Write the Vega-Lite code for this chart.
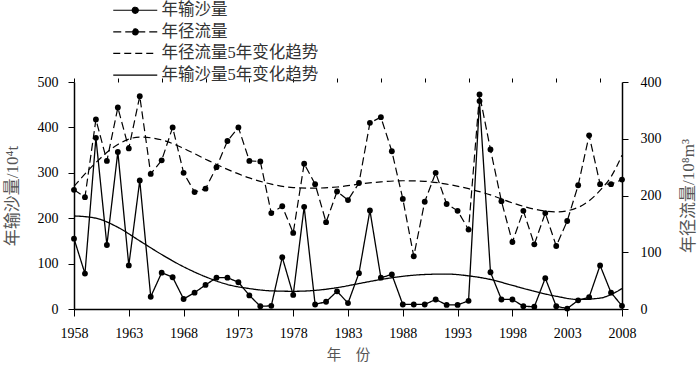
{
  "$schema": "https://vega.github.io/schema/vega-lite/v6.json",
  "width": 548,
  "height": 227,
  "autosize": {"type": "none"},
  "padding": {"left": 74, "top": 82, "right": 78, "bottom": 58},
  "background": "white",
  "config": {
    "view": {"stroke": null},
    "font": "Liberation Serif, Noto Sans CJK SC",
    "axis": {
      "domainColor": "black",
      "domainWidth": 1.5,
      "tickColor": "black",
      "tickWidth": 1,
      "labelColor": "black",
      "labelFont": "Liberation Serif",
      "labelFontSize": 14,
      "titleFont": "Liberation Serif, Noto Sans CJK SC",
      "titleFontSize": 17,
      "titleFontWeight": "normal",
      "titleColor": "#555",
      "grid": false
    }
  },
  "datasets": {
    "sed": [
      {"year": 1958, "series": "年输沙量", "value": 155}, {"year": 1959, "series": "年输沙量", "value": 78},
      {"year": 1960, "series": "年输沙量", "value": 377}, {"year": 1961, "series": "年输沙量", "value": 141},
      {"year": 1962, "series": "年输沙量", "value": 346}, {"year": 1963, "series": "年输沙量", "value": 96},
      {"year": 1964, "series": "年输沙量", "value": 283}, {"year": 1965, "series": "年输沙量", "value": 27},
      {"year": 1966, "series": "年输沙量", "value": 80}, {"year": 1967, "series": "年输沙量", "value": 70},
      {"year": 1968, "series": "年输沙量", "value": 22}, {"year": 1969, "series": "年输沙量", "value": 36},
      {"year": 1970, "series": "年输沙量", "value": 53}, {"year": 1971, "series": "年输沙量", "value": 69},
      {"year": 1972, "series": "年输沙量", "value": 69}, {"year": 1973, "series": "年输沙量", "value": 59},
      {"year": 1974, "series": "年输沙量", "value": 30}, {"year": 1975, "series": "年输沙量", "value": 6},
      {"year": 1976, "series": "年输沙量", "value": 7}, {"year": 1977, "series": "年输沙量", "value": 114},
      {"year": 1978, "series": "年输沙量", "value": 31}, {"year": 1979, "series": "年输沙量", "value": 225},
      {"year": 1980, "series": "年输沙量", "value": 10}, {"year": 1981, "series": "年输沙量", "value": 16},
      {"year": 1982, "series": "年输沙量", "value": 39}, {"year": 1983, "series": "年输沙量", "value": 13},
      {"year": 1984, "series": "年输沙量", "value": 79}, {"year": 1985, "series": "年输沙量", "value": 217},
      {"year": 1986, "series": "年输沙量", "value": 69}, {"year": 1987, "series": "年输沙量", "value": 76},
      {"year": 1988, "series": "年输沙量", "value": 10}, {"year": 1989, "series": "年输沙量", "value": 10},
      {"year": 1990, "series": "年输沙量", "value": 10}, {"year": 1991, "series": "年输沙量", "value": 21},
      {"year": 1992, "series": "年输沙量", "value": 9}, {"year": 1993, "series": "年输沙量", "value": 9},
      {"year": 1994, "series": "年输沙量", "value": 18}, {"year": 1995, "series": "年输沙量", "value": 458},
      {"year": 1996, "series": "年输沙量", "value": 81}, {"year": 1997, "series": "年输沙量", "value": 21},
      {"year": 1998, "series": "年输沙量", "value": 21}, {"year": 1999, "series": "年输沙量", "value": 6},
      {"year": 2000, "series": "年输沙量", "value": 5}, {"year": 2001, "series": "年输沙量", "value": 68},
      {"year": 2002, "series": "年输沙量", "value": 6}, {"year": 2003, "series": "年输沙量", "value": 1},
      {"year": 2004, "series": "年输沙量", "value": 19}, {"year": 2005, "series": "年输沙量", "value": 26},
      {"year": 2006, "series": "年输沙量", "value": 96}, {"year": 2007, "series": "年输沙量", "value": 36},
      {"year": 2008, "series": "年输沙量", "value": 7}
    ],
    "run": [
      {"year": 1958, "series": "年径流量", "value": 210}, {"year": 1959, "series": "年径流量", "value": 197},
      {"year": 1960, "series": "年径流量", "value": 334}, {"year": 1961, "series": "年径流量", "value": 261},
      {"year": 1962, "series": "年径流量", "value": 355}, {"year": 1963, "series": "年径流量", "value": 283},
      {"year": 1964, "series": "年径流量", "value": 375}, {"year": 1965, "series": "年径流量", "value": 238},
      {"year": 1966, "series": "年径流量", "value": 262}, {"year": 1967, "series": "年径流量", "value": 320},
      {"year": 1968, "series": "年径流量", "value": 240}, {"year": 1969, "series": "年径流量", "value": 206},
      {"year": 1970, "series": "年径流量", "value": 212}, {"year": 1971, "series": "年径流量", "value": 250},
      {"year": 1972, "series": "年径流量", "value": 296}, {"year": 1973, "series": "年径流量", "value": 320},
      {"year": 1974, "series": "年径流量", "value": 261}, {"year": 1975, "series": "年径流量", "value": 260},
      {"year": 1976, "series": "年径流量", "value": 169}, {"year": 1977, "series": "年径流量", "value": 181},
      {"year": 1978, "series": "年径流量", "value": 134}, {"year": 1979, "series": "年径流量", "value": 256},
      {"year": 1980, "series": "年径流量", "value": 220}, {"year": 1981, "series": "年径流量", "value": 153},
      {"year": 1982, "series": "年径流量", "value": 207}, {"year": 1983, "series": "年径流量", "value": 192},
      {"year": 1984, "series": "年径流量", "value": 222}, {"year": 1985, "series": "年径流量", "value": 328},
      {"year": 1986, "series": "年径流量", "value": 338}, {"year": 1987, "series": "年径流量", "value": 278},
      {"year": 1988, "series": "年径流量", "value": 194}, {"year": 1989, "series": "年径流量", "value": 93},
      {"year": 1990, "series": "年径流量", "value": 189}, {"year": 1991, "series": "年径流量", "value": 240},
      {"year": 1992, "series": "年径流量", "value": 185}, {"year": 1993, "series": "年径流量", "value": 173},
      {"year": 1994, "series": "年径流量", "value": 140}, {"year": 1995, "series": "年径流量", "value": 378},
      {"year": 1996, "series": "年径流量", "value": 281}, {"year": 1997, "series": "年径流量", "value": 190},
      {"year": 1998, "series": "年径流量", "value": 118}, {"year": 1999, "series": "年径流量", "value": 173},
      {"year": 2000, "series": "年径流量", "value": 114}, {"year": 2001, "series": "年径流量", "value": 169},
      {"year": 2002, "series": "年径流量", "value": 111}, {"year": 2003, "series": "年径流量", "value": 155},
      {"year": 2004, "series": "年径流量", "value": 218}, {"year": 2005, "series": "年径流量", "value": 306},
      {"year": 2006, "series": "年径流量", "value": 220}, {"year": 2007, "series": "年径流量", "value": 220},
      {"year": 2008, "series": "年径流量", "value": 228}
    ],
    "runTrend": [
      {"year": 1958, "series": "年径流量5年变化趋势", "value": 216}, {"year": 1960, "series": "年径流量5年变化趋势", "value": 258},
      {"year": 1962, "series": "年径流量5年变化趋势", "value": 290}, {"year": 1964, "series": "年径流量5年变化趋势", "value": 303},
      {"year": 1966, "series": "年径流量5年变化趋势", "value": 298}, {"year": 1968, "series": "年径流量5年变化趋势", "value": 283},
      {"year": 1970, "series": "年径流量5年变化趋势", "value": 264}, {"year": 1972, "series": "年径流量5年变化趋势", "value": 246},
      {"year": 1974, "series": "年径流量5年变化趋势", "value": 231}, {"year": 1976, "series": "年径流量5年变化趋势", "value": 220},
      {"year": 1978, "series": "年径流量5年变化趋势", "value": 214}, {"year": 1980, "series": "年径流量5年变化趋势", "value": 213},
      {"year": 1982, "series": "年径流量5年变化趋势", "value": 215}, {"year": 1984, "series": "年径流量5年变化趋势", "value": 220},
      {"year": 1986, "series": "年径流量5年变化趋势", "value": 224}, {"year": 1988, "series": "年径流量5年变化趋势", "value": 226},
      {"year": 1990, "series": "年径流量5年变化趋势", "value": 225}, {"year": 1992, "series": "年径流量5年变化趋势", "value": 220},
      {"year": 1994, "series": "年径流量5年变化趋势", "value": 212}, {"year": 1996, "series": "年径流量5年变化趋势", "value": 201},
      {"year": 1998, "series": "年径流量5年变化趋势", "value": 187}, {"year": 2000, "series": "年径流量5年变化趋势", "value": 176},
      {"year": 2002, "series": "年径流量5年变化趋势", "value": 171}, {"year": 2004, "series": "年径流量5年变化趋势", "value": 179},
      {"year": 2006, "series": "年径流量5年变化趋势", "value": 209}, {"year": 2007, "series": "年径流量5年变化趋势", "value": 233},
      {"year": 2008, "series": "年径流量5年变化趋势", "value": 271}
    ],
    "sedTrend": [
      {"year": 1958, "series": "年输沙量5年变化趋势", "value": 205}, {"year": 1960, "series": "年输沙量5年变化趋势", "value": 200},
      {"year": 1962, "series": "年输沙量5年变化趋势", "value": 180}, {"year": 1964, "series": "年输沙量5年变化趋势", "value": 150},
      {"year": 1966, "series": "年输沙量5年变化趋势", "value": 120}, {"year": 1968, "series": "年输沙量5年变化趋势", "value": 93},
      {"year": 1970, "series": "年输沙量5年变化趋势", "value": 71}, {"year": 1972, "series": "年输沙量5年变化趋势", "value": 54},
      {"year": 1974, "series": "年输沙量5年变化趋势", "value": 45}, {"year": 1976, "series": "年输沙量5年变化趋势", "value": 40},
      {"year": 1978, "series": "年输沙量5年变化趋势", "value": 39}, {"year": 1980, "series": "年输沙量5年变化趋势", "value": 41},
      {"year": 1982, "series": "年输沙量5年变化趋势", "value": 47}, {"year": 1984, "series": "年输沙量5年变化趋势", "value": 56},
      {"year": 1986, "series": "年输沙量5年变化趋势", "value": 65}, {"year": 1988, "series": "年输沙量5年变化趋势", "value": 72},
      {"year": 1990, "series": "年输沙量5年变化趋势", "value": 76}, {"year": 1992, "series": "年输沙量5年变化趋势", "value": 77},
      {"year": 1994, "series": "年输沙量5年变化趋势", "value": 73}, {"year": 1996, "series": "年输沙量5年变化趋势", "value": 65},
      {"year": 1998, "series": "年输沙量5年变化趋势", "value": 52}, {"year": 2000, "series": "年输沙量5年变化趋势", "value": 39},
      {"year": 2002, "series": "年输沙量5年变化趋势", "value": 28}, {"year": 2004, "series": "年输沙量5年变化趋势", "value": 21},
      {"year": 2006, "series": "年输沙量5年变化趋势", "value": 24}, {"year": 2007, "series": "年输沙量5年变化趋势", "value": 32},
      {"year": 2008, "series": "年输沙量5年变化趋势", "value": 45}
    ]
  },
  "layer": [
    {
      "layer": [
        {
          "data": {"name": "sed"},
          "mark": {"type": "line", "stroke": "black", "strokeWidth": 1.3},
          "encoding": {
            "x": {
              "field": "year", "type": "quantitative",
              "scale": {"domain": [1958, 2008], "nice": false, "zero": false},
              "axis": {
                "title": "年　份",
                "titleFontSize": 14.5,
                "values": [1958, 1963, 1968, 1973, 1978, 1983, 1988, 1993, 1998, 2003, 2008],
                "format": "d",
                "tickSize": 7,
                "labelPadding": 10,
                "labelFlush": false,
                "labelOverlap": false,
                "titlePadding": 8
              }
            },
            "y": {
              "field": "value", "type": "quantitative",
              "scale": {"domain": [0, 500], "nice": false},
              "axis": {
                "title": "年输沙量/10⁴t",
                "values": [0, 100, 200, 300, 400, 500],
                "tickSize": 6,
                "labelPadding": 10,
                "titlePadding": 16
              }
            },
            "strokeDash": {
              "field": "series", "type": "nominal",
              "scale": {
                "domain": ["年输沙量", "年径流量", "年径流量5年变化趋势", "年输沙量5年变化趋势"],
                "range": [[1, 0], [8, 4], [7, 4], [1, 0]]
              },
              "legend": {
                "title": null,
                "orient": "none",
                "legendX": 53,
                "legendY": -80,
                "symbolSize": 121,
                "symbolStrokeWidth": 1.2,
                "symbolStrokeColor": "black",
                "labelFontSize": 16.5,
                "labelColor": "#333",
                "labelFont": "Liberation Serif, Noto Sans CJK SC",
                "labelOffset": 18,
                "rowPadding": 4.6,
                "encode": {
                  "symbols": {
                    "update": {
                      "shape": {"signal": "datum.value === '年输沙量' || datum.value === '年径流量' ? 'M-4,0L4,0M0.55,0A0.55,0.55,0,1,1,-0.55,0A0.55,0.55,0,1,1,0.55,0Z' : 'M-4,0L4,0'"},
                      "fill": {"value": "black"},
                      "stroke": {"value": "black"}
                    }
                  }
                }
              }
            }
          }
        },
        {
          "data": {"name": "sed"},
          "mark": {"type": "point", "filled": true, "color": "black", "size": 34, "opacity": 1},
          "encoding": {
            "x": {"field": "year", "type": "quantitative"},
            "y": {"field": "value", "type": "quantitative"}
          }
        },
        {
          "data": {"name": "sedTrend"},
          "mark": {"type": "line", "stroke": "black", "strokeWidth": 1.3, "interpolate": "monotone"},
          "encoding": {
            "x": {"field": "year", "type": "quantitative"},
            "y": {"field": "value", "type": "quantitative"},
            "strokeDash": {"field": "series", "type": "nominal"}
          }
        }
      ]
    },
    {
      "layer": [
        {
          "data": {"name": "run"},
          "mark": {"type": "line", "stroke": "black", "strokeWidth": 1.2},
          "encoding": {
            "x": {
              "field": "year", "type": "quantitative",
              "axis": {
                "title": null,
                "labels": false,
                "domain": false,
                "tickSize": 4,
                "values": [1958,1959,1960,1961,1962,1963,1964,1965,1966,1967,1968,1969,1970,1971,1972,1973,1974,1975,1976,1977,1978,1979,1980,1981,1982,1983,1984,1985,1986,1987,1988,1989,1990,1991,1992,1993,1994,1995,1996,1997,1998,1999,2000,2001,2002,2003,2004,2005,2006,2007,2008]
              }
            },
            "y": {
              "field": "value", "type": "quantitative",
              "scale": {"domain": [0, 400], "nice": false},
              "axis": {
                "orient": "right",
                "title": "年径流量/10⁸m³",
                "titleAngle": 270,
                "values": [0, 100, 200, 300, 400],
                "tickSize": 6,
                "labelPadding": 12,
                "titlePadding": 36
              }
            },
            "strokeDash": {"field": "series", "type": "nominal"}
          }
        },
        {
          "data": {"name": "run"},
          "mark": {"type": "point", "filled": true, "color": "black", "size": 34, "opacity": 1},
          "encoding": {
            "x": {"field": "year", "type": "quantitative"},
            "y": {"field": "value", "type": "quantitative"}
          }
        },
        {
          "data": {"name": "runTrend"},
          "mark": {"type": "line", "stroke": "black", "strokeWidth": 1.2, "interpolate": "monotone"},
          "encoding": {
            "x": {"field": "year", "type": "quantitative"},
            "y": {"field": "value", "type": "quantitative"},
            "strokeDash": {"field": "series", "type": "nominal"}
          }
        }
      ]
    }
  ],
  "resolve": {"scale": {"y": "independent"}, "axis": {"x": "independent"}}
}
